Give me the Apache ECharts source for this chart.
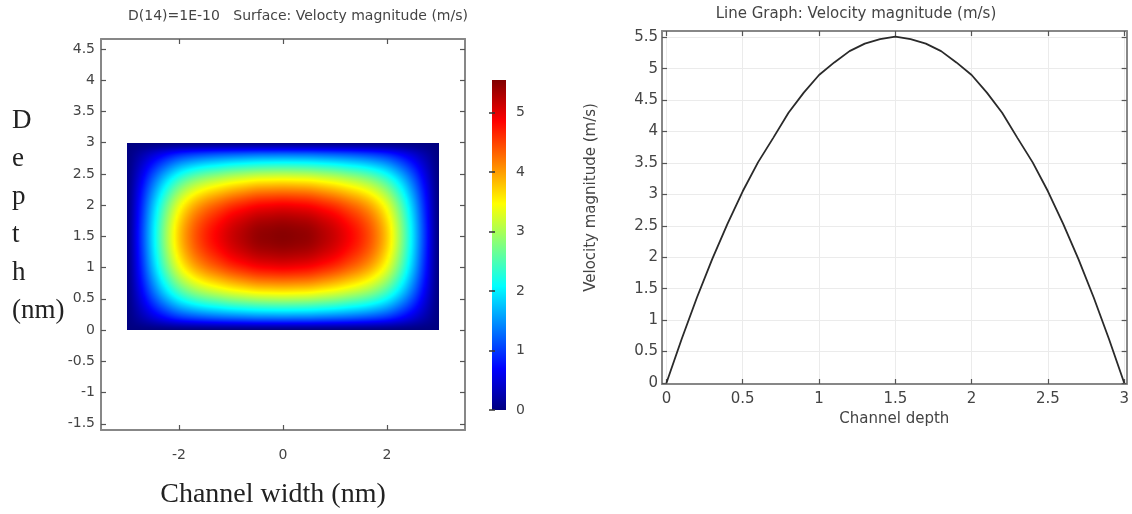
<!DOCTYPE html>
<html><head><meta charset="utf-8">
<script src="https://cdn.jsdelivr.net/npm/echarts@6/dist/echarts.min.js"></script>
<style>html,body{margin:0;padding:0;background:#fff}#c{width:1132px;height:514px}</style>
</head><body><div id="c"></div>
<script>
// ---------- data ----------
const heatX = [-3,-2.75,-2.5,-2.25,-2,-1.75,-1.5,-1.25,-1,-0.75,-0.5,-0.25,0,0.25,0.5,0.75,1,1.25,1.5,1.75,2,2.25,2.5,2.75,3];
const heatY = [0,0.2,0.4,0.6,0.8,1,1.2,1.4,1.6,1.8,2,2.2,2.4,2.6,2.8,3];
const heatV = [
 [0,0,0,0,0,0,0,0,0,0,0,0,0,0,0,0,0,0,0,0,0,0,0,0,0],
 [0,0.22,0.48,0.73,0.94,1.07,1.16,1.23,1.28,1.32,1.36,1.37,1.38,1.37,1.36,1.32,1.28,1.23,1.16,1.07,0.94,0.73,0.48,0.22,0],
 [0,0.40,0.89,1.34,1.72,1.97,2.14,2.25,2.36,2.43,2.49,2.52,2.53,2.52,2.49,2.43,2.36,2.25,2.14,1.97,1.72,1.34,0.89,0.40,0],
 [0,0.56,1.24,1.87,2.39,2.75,2.98,3.14,3.28,3.38,3.47,3.50,3.52,3.50,3.47,3.38,3.28,3.14,2.98,2.75,2.39,1.87,1.24,0.56,0],
 [0,0.69,1.51,2.28,2.92,3.35,3.63,3.82,3.99,4.12,4.23,4.27,4.29,4.27,4.23,4.12,3.99,3.82,3.63,3.35,2.92,2.28,1.51,0.69,0],
 [0,0.78,1.72,2.60,3.33,3.82,4.14,4.36,4.56,4.70,4.82,4.87,4.90,4.87,4.82,4.70,4.56,4.36,4.14,3.82,3.33,2.60,1.72,0.78,0],
 [0,0.84,1.85,2.80,3.59,4.12,4.46,4.70,4.92,5.07,5.20,5.25,5.28,5.25,5.20,5.07,4.92,4.70,4.46,4.12,3.59,2.80,1.85,0.84,0],
 [0,0.88,1.92,2.91,3.73,4.27,4.63,4.88,5.10,5.26,5.40,5.45,5.48,5.45,5.40,5.26,5.10,4.88,4.63,4.27,3.73,2.91,1.92,0.88,0],
 [0,0.88,1.92,2.91,3.73,4.27,4.63,4.88,5.10,5.26,5.40,5.45,5.48,5.45,5.40,5.26,5.10,4.88,4.63,4.27,3.73,2.91,1.92,0.88,0],
 [0,0.84,1.85,2.80,3.59,4.12,4.46,4.70,4.92,5.07,5.20,5.25,5.28,5.25,5.20,5.07,4.92,4.70,4.46,4.12,3.59,2.80,1.85,0.84,0],
 [0,0.78,1.72,2.60,3.33,3.82,4.14,4.36,4.56,4.70,4.82,4.87,4.90,4.87,4.82,4.70,4.56,4.36,4.14,3.82,3.33,2.60,1.72,0.78,0],
 [0,0.69,1.51,2.28,2.92,3.35,3.63,3.82,3.99,4.12,4.23,4.27,4.29,4.27,4.23,4.12,3.99,3.82,3.63,3.35,2.92,2.28,1.51,0.69,0],
 [0,0.56,1.24,1.87,2.39,2.75,2.98,3.14,3.28,3.38,3.47,3.50,3.52,3.50,3.47,3.38,3.28,3.14,2.98,2.75,2.39,1.87,1.24,0.56,0],
 [0,0.40,0.89,1.34,1.72,1.97,2.14,2.25,2.36,2.43,2.49,2.52,2.53,2.52,2.49,2.43,2.36,2.25,2.14,1.97,1.72,1.34,0.89,0.40,0],
 [0,0.22,0.48,0.73,0.94,1.07,1.16,1.23,1.28,1.32,1.36,1.37,1.38,1.37,1.36,1.32,1.28,1.23,1.16,1.07,0.94,0.73,0.48,0.22,0],
 [0,0,0,0,0,0,0,0,0,0,0,0,0,0,0,0,0,0,0,0,0,0,0,0,0]
];
const cbRange = [0, 5.55];
const cbTicks = [0, 1, 2, 3, 4, 5];
const leftXTicks = [-2, 0, 2];
const leftYTicks = [-1.5, -1, -0.5, 0, 0.5, 1, 1.5, 2, 2.5, 3, 3.5, 4, 4.5];
const depthX = [0,0.1,0.2,0.3,0.4,0.5,0.6,0.7,0.8,0.9,1,1.1,1.2,1.3,1.4,1.5,1.6,1.7,1.8,1.9,2,2.1,2.2,2.3,2.4,2.5,2.6,2.7,2.8,2.9,3];
const velocity = [0,0.7,1.36,1.97,2.53,3.05,3.51,3.9,4.3,4.62,4.9,5.1,5.28,5.4,5.47,5.51,5.47,5.4,5.28,5.1,4.9,4.62,4.3,3.9,3.51,3.05,2.53,1.97,1.36,0.7,0];
const rightXTicks = [0, 0.5, 1, 1.5, 2, 2.5, 3];
const rightYTicks = [0, 0.5, 1, 1.5, 2, 2.5, 3, 3.5, 4, 4.5, 5, 5.5];

// ---------- colour map (jet / rainbow) ----------
const JET = [[0,[0,0,128]],[0.125,[0,0,255]],[0.375,[0,255,255]],[0.625,[255,255,0]],[0.875,[255,0,0]],[1,[128,0,0]]];
function jet(t) {
  t = Math.max(0, Math.min(1, t));
  for (let i = 1; i < JET.length; i++) {
    if (t <= JET[i][0]) {
      const a = JET[i-1], b = JET[i];
      const f = (t - a[0]) / (b[0] - a[0]);
      const c = a[1].map((v, k) => Math.round(v + (b[1][k] - v) * f));
      return 'rgb(' + c.join(',') + ')';
    }
  }
  return 'rgb(128,0,0)';
}
// smooth (Catmull-Rom) shading between neighbouring nodes, used only for drawing
function cr(p0, p1, p2, p3, t) {
  const t2 = t * t, t3 = t2 * t;
  return 0.5 * ((2 * p1) + (-p0 + p2) * t + (2 * p0 - 5 * p1 + 4 * p2 - p3) * t2 + (-p0 + 3 * p1 - 3 * p2 + p3) * t3);
}

function renderHeat(params, api) {
  const j = api.value(1);
  const nR = heatY.length, n = heatX.length;
  const y0 = heatY[j], y1 = heatY[j + 1];
  const xa = heatX[0], xb = heatX[n - 1];
  const vmax = cbRange[1];
  const M = 6;
  const pBot = api.coord([xa, y0]), pTop = api.coord([xb, y1]);
  const left = pBot[0], right = pTop[0];
  const top = pTop[1], bot = pBot[1];
  const rA = heatV[Math.max(j - 1, 0)], rB = heatV[j], rC = heatV[j + 1], rD = heatV[Math.min(j + 2, nR - 1)];
  const children = [];
  const pyStart = Math.ceil(top - 0.5), pyEnd = Math.ceil(bot - 0.5);
  for (let py = pyStart; py < pyEnd; py++) {
    const s = Math.min(1, Math.max(0, (bot - (py + 0.5)) / (bot - top)));
    const row = [];
    for (let i = 0; i < n; i++) row.push(Math.max(0, cr(rA[i], rB[i], rC[i], rD[i], s)));
    const stops = [];
    for (let i = 0; i < n - 1; i++) {
      const q0 = row[Math.max(i - 1, 0)], q1 = row[i], q2 = row[i + 1], q3 = row[Math.min(i + 2, n - 1)];
      for (let m = 0; m < M; m++) {
        const f = m / M;
        const xv = heatX[i] + (heatX[i + 1] - heatX[i]) * f;
        stops.push({offset: (xv - xa) / (xb - xa), color: jet(Math.max(0, cr(q0, q1, q2, q3, f)) / vmax)});
      }
    }
    stops.push({offset: 1, color: jet(row[n - 1] / vmax)});
    children.push({
      type: 'rect',
      shape: {x: Math.round(left), y: py, width: Math.round(right) - Math.round(left), height: 1},
      style: {fill: {type: 'linear', x: 0, y: 0, x2: 1, y2: 0, colorStops: stops}},
      silent: true
    });
  }
  return {type: 'group', children: children};
}

function renderBar(params, api) {
  const p0 = api.coord([0, api.value(2)]);
  const p1 = api.coord([1, api.value(1)]);
  const stops = JET.slice().reverse().map(s => ({offset: 1 - s[0], color: 'rgb(' + s[1].join(',') + ')'}));
  return {
    type: 'rect',
    shape: {x: p0[0], y: p0[1], width: p1[0] - p0[0], height: p1[1] - p0[1]},
    style: {fill: {type: 'linear', x: 0, y: 0, x2: 0, y2: 1, colorStops: stops}},
    silent: true
  };
}

// ---------- styling helpers ----------
const FRAME = {show: true, onZero: false, lineStyle: {color: '#878787', width: 2}};
const TICKC = '#555';
const SANS = 'DejaVu Sans';
function lbl(size, vals, margin) {
  return {show: true, customValues: vals, margin: margin, color: '#444', fontFamily: SANS, fontSize: size};
}
function tick(vals, len) {
  return {show: true, inside: true, length: len, customValues: vals, lineStyle: {color: TICKC, width: 1.2}};
}
const rightSplit = {show: true, lineStyle: {color: '#ebebeb', width: 1}};

const option = {
  animation: false,
  backgroundColor: '#ffffff',
  title: [
    {text: 'D(14)=1E-10   Surface: Velocty magnitude (m/s)', left: 298, top: 9, padding: 0, textAlign: 'center',
     textStyle: {fontFamily: SANS, fontSize: 14, fontWeight: 'normal', color: '#444'}},
    {text: 'Line Graph: Velocity magnitude (m/s)', left: 856, top: 7, padding: 0, textAlign: 'center',
     textStyle: {fontFamily: SANS, fontSize: 15, fontWeight: 'normal', color: '#444'}},
    {text: 'D\ne\np\nt\nh\n(nm)', left: 12, top: 102, padding: 0, textAlign: 'left',
     textStyle: {fontFamily: 'Liberation Serif', fontSize: 27, lineHeight: 38, fontWeight: 'normal', color: '#222'}}
  ],
  grid: [
    {left: 101, top: 39, width: 364, height: 395, containLabel: false},
    {left: 492, top: 80, width: 14, height: 330, containLabel: false},
    {left: 662, top: 31, width: 466, height: 353, containLabel: false}
  ],
  xAxis: [
    {gridIndex: 0, type: 'value', min: -3.5, max: 3.5, position: 'bottom', axisLine: FRAME,
     axisTick: tick(leftXTicks, 5), axisLabel: lbl(14, leftXTicks, 18), splitLine: {show: false},
     name: 'Channel width (nm)', nameLocation: 'middle', nameGap: 51,
     nameTextStyle: {fontFamily: 'Liberation Serif', fontSize: 28, color: '#222', padding: [0, 20, 0, 0]}},
    {gridIndex: 0, type: 'value', min: -3.5, max: 3.5, position: 'top', axisLine: FRAME,
     axisTick: tick(leftXTicks, 5), axisLabel: {show: false}, splitLine: {show: false}},
    {gridIndex: 1, type: 'value', min: 0, max: 1, show: false},
    {gridIndex: 2, type: 'value', min: -0.029, max: 3.016, position: 'bottom', axisLine: FRAME,
     axisTick: tick(rightXTicks, 5), axisLabel: lbl(15, rightXTicks, 8),
     splitLine: rightSplit,
     name: 'Channel depth', nameLocation: 'middle', nameGap: 26,
     nameTextStyle: {fontFamily: SANS, fontSize: 15, color: '#444'}},
    {gridIndex: 2, type: 'value', min: -0.029, max: 3.016, position: 'top', axisLine: FRAME,
     axisTick: tick(rightXTicks, 5), axisLabel: {show: false}, splitLine: {show: false}}
  ],
  yAxis: [
    {gridIndex: 0, type: 'value', min: -1.6, max: 4.66, position: 'left', axisLine: FRAME,
     axisTick: tick(leftYTicks, 5), axisLabel: lbl(14, leftYTicks, 6), splitLine: {show: false}},
    {gridIndex: 0, type: 'value', min: -1.6, max: 4.66, position: 'right', axisLine: FRAME,
     axisTick: tick(leftYTicks, 5), axisLabel: {show: false}, splitLine: {show: false}},
    {gridIndex: 1, type: 'value', min: cbRange[0], max: cbRange[1], position: 'right', axisLine: {show: false}, z: 10,
     axisTick: {show: true, inside: true, length: 3, customValues: cbTicks, lineStyle: {color: '#333', width: 1.5}},
     axisLabel: lbl(14, cbTicks, 10), splitLine: {show: false}},
    {gridIndex: 1, type: 'value', min: cbRange[0], max: cbRange[1], position: 'left', axisLine: {show: false}, z: 10,
     axisTick: {show: true, inside: true, length: 3, customValues: cbTicks, lineStyle: {color: '#333', width: 1.5}},
     axisLabel: {show: false}, splitLine: {show: false}},
    {gridIndex: 2, type: 'value', min: -0.016, max: 5.6, position: 'left', axisLine: FRAME,
     axisTick: tick(rightYTicks, 5), axisLabel: lbl(15, rightYTicks, 4),
     splitLine: rightSplit,
     name: 'Velocity magnitude (m/s)', nameLocation: 'middle', nameGap: 63, nameRotate: 90,
     nameTextStyle: {fontFamily: SANS, fontSize: 15, color: '#444', padding: [0, 0, 0, 20]}},
    {gridIndex: 2, type: 'value', min: -0.016, max: 5.6, position: 'right', axisLine: FRAME,
     axisTick: tick(rightYTicks, 5), axisLabel: {show: false}, splitLine: {show: false}}
  ],
  series: [
    {type: 'custom', name: 'Velocity field', xAxisIndex: 0, yAxisIndex: 0,
     data: heatY.slice(0, -1).map((y, j) => [y, j]), renderItem: renderHeat, z: 1},
    {type: 'custom', name: 'Colour bar', xAxisIndex: 2, yAxisIndex: 2,
     data: [[0, cbRange[0], cbRange[1]]], renderItem: renderBar, z: 1},
    {type: 'line', name: 'Velocity magnitude', xAxisIndex: 3, yAxisIndex: 4,
     data: depthX.map((x, i) => [x, velocity[i]]), showSymbol: false, symbol: 'none',
     lineStyle: {color: '#2a2a2a', width: 1.8}, z: 3}
  ]
};
const chart = echarts.init(document.getElementById('c'), null, {renderer: 'canvas'});
chart.setOption(option);
</script></body></html>
